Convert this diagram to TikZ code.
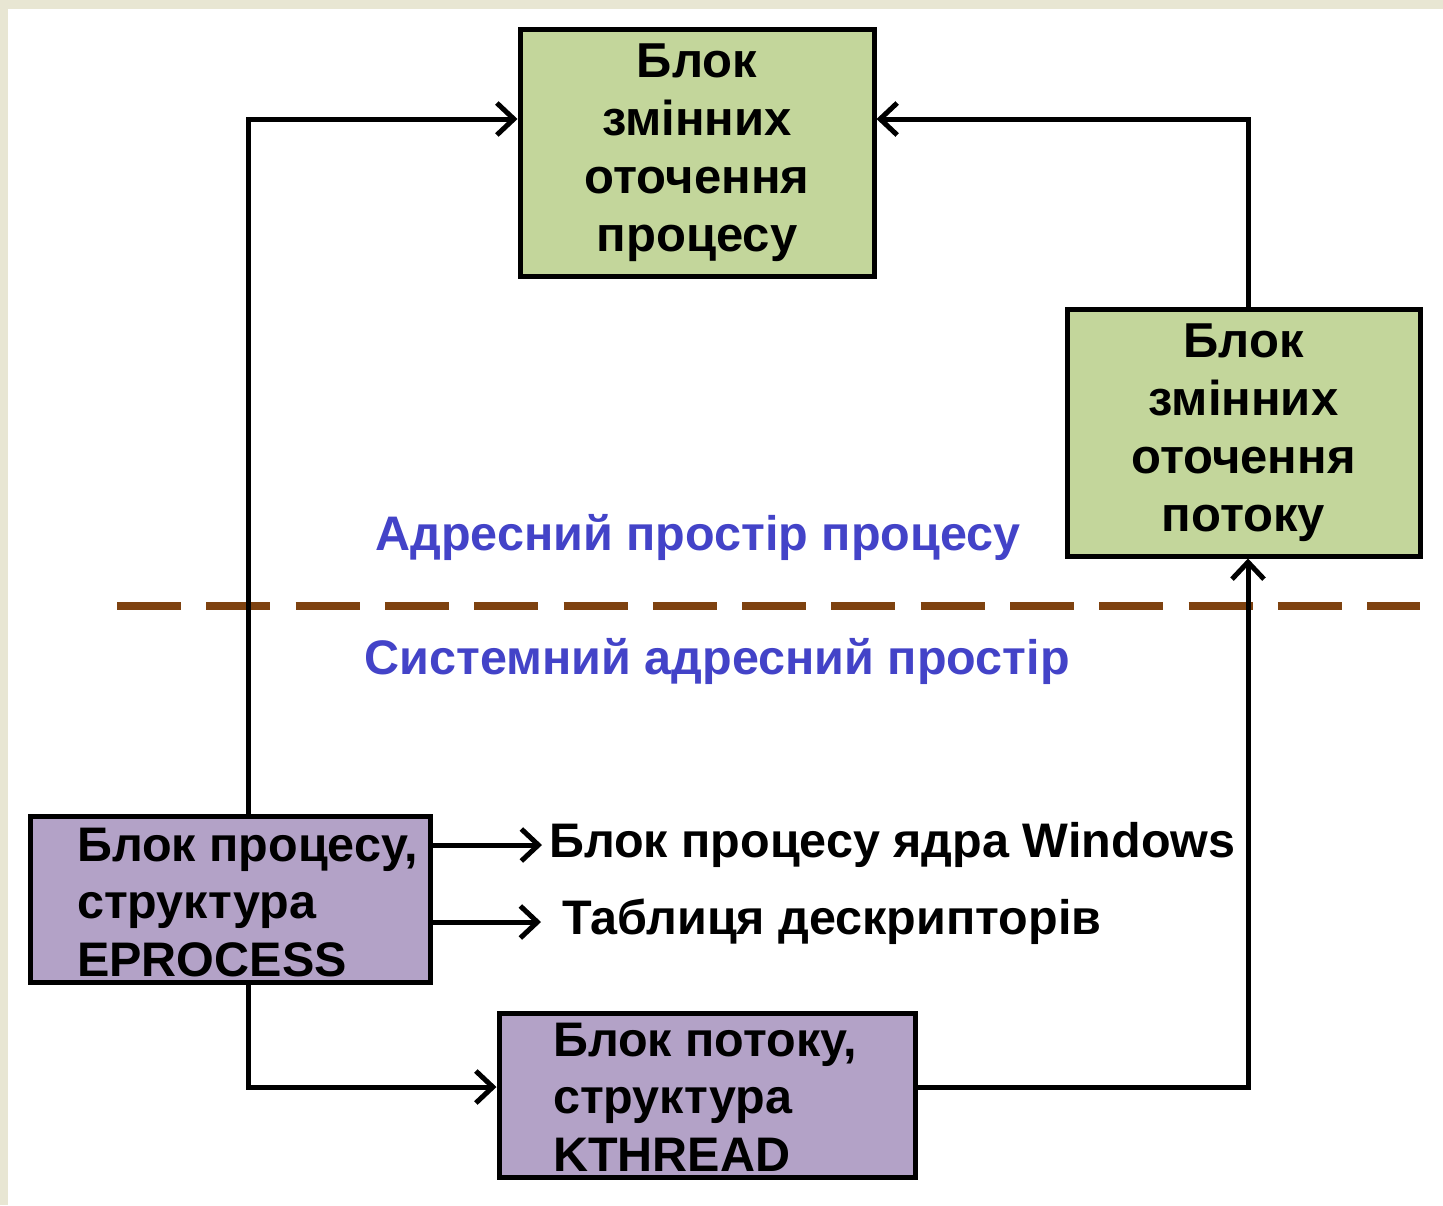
\documentclass[tikz,border=0pt]{standalone}
\usepackage{fontspec}
\setmainfont{Liberation Sans}
\usetikzlibrary{arrows.meta,calc}
\definecolor{bgbeige}{HTML}{E8E6D3}
\definecolor{boxgreen}{HTML}{C3D69B}
\definecolor{boxpurple}{HTML}{B3A2C7}
\definecolor{sepbrown}{HTML}{7E4210}
\definecolor{txtblue}{HTML}{4343C8}
\begin{document}
\begin{tikzpicture}[x=1pt,y=-1pt,
  boxtxt/.style={font=\fontsize{48.5}{57.5}\selectfont\bfseries, inner sep=0pt},
  bluetxt/.style={font=\fontsize{48.5}{56}\selectfont\bfseries, text=txtblue, inner sep=0pt},
  greenbox/.style={draw=black, line width=5pt, fill=boxgreen, inner sep=0pt, align=center,
    font=\fontsize{49}{58}\selectfont\bfseries},
  purplebox/.style={draw=black, line width=5pt, fill=boxpurple, inner sep=0pt},
  arr/.style={line width=5pt, -{Straight Barb[length=17pt,width=32pt]}}]
\useasboundingbox (0,0) rectangle (1443,1205);
\fill[bgbeige] (0,0) rectangle (1443,1205);
\fill[white] (8,9) rectangle (1443,1205);

% separator
\coordinate (sepL) at (117,606);
\coordinate (sepR) at (1420,606);
\draw[sepbrown, line width=8pt, dash pattern=on 64pt off 25.3pt] (sepL) -- (sepR);

% boxes
\node[greenbox, minimum width=354pt, minimum height=247pt] (envTop) at (697,152.5)
  {Блок\\змінних\\оточення\\процесу};
\node[greenbox, minimum width=353pt, minimum height=247pt] (envThr) at (1243.5,432.5)
  {Блок\\змінних\\оточення\\потоку};
\node[purplebox, minimum width=400pt, minimum height=166pt] (eproc) at (230,899) {};
\node[purplebox, minimum width=416pt, minimum height=164pt] (kthr) at (707,1095) {};
\node[boxtxt, align=left, anchor=base west] (eptxt) at (77,976) {Блок процесу,\\структура\\EPROCESS};
\node[boxtxt, align=left, anchor=base west] (kthtxt) at (553,1171) {Блок потоку,\\структура\\KTHREAD};

% labels
\node[bluetxt] (addrUser) at (698,537) {Адресний простір процесу};
\node[bluetxt] (addrSys) at (717,661) {Системний адресний простір};
\node[boxtxt, anchor=west] (kblk) at (549,845) {Блок процесу ядра Windows};
\node[boxtxt, anchor=west] (htab) at (562,922) {Таблиця дескрипторів};

% routing coordinates
\coordinate (pL) at (248,119);
\coordinate (pR) at (1248,119);
\coordinate (yB) at (0,1087);
\coordinate (y1) at (0,845);
\coordinate (y2) at (0,922);

% connectors
\draw[arr] (eproc.north -| pL) |- (envTop.west |- pL);
\draw[arr] (envThr.north -| pR) |- (envTop.east |- pR);
\draw[arr] (eproc.south -| pL) |- (kthr.west |- yB);
\draw[arr] (kthr.east |- yB) -| (envThr.south -| pR);
\draw[arr] (eproc.east |- y1) -- ($(kblk.west)+(-7,0)$);
\draw[arr] (eproc.east |- y2) -- ($(htab.west)+(-21,0)$);
\end{tikzpicture}
\end{document}
